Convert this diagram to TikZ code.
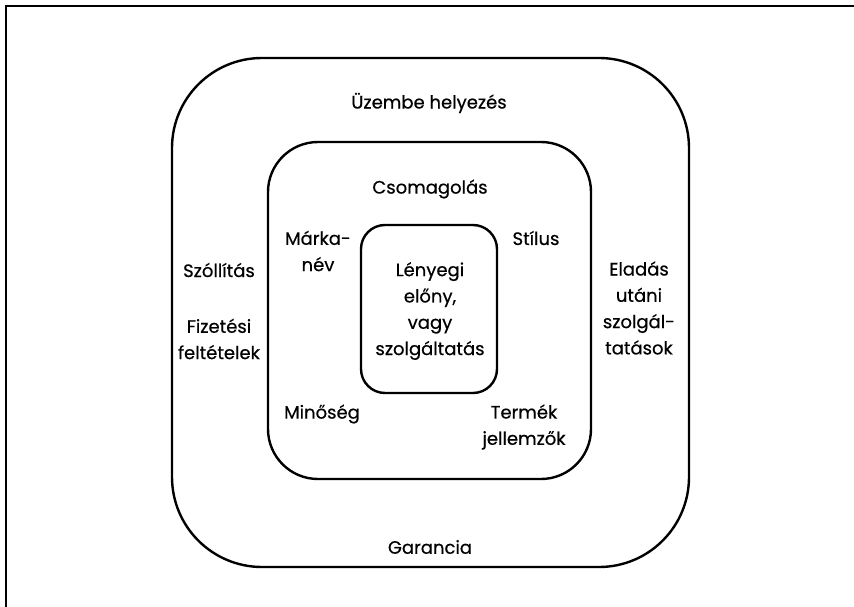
\documentclass[tikz,border=0pt]{standalone}
\usepackage{fontspec}
\setmainfont{Poppins}[BoldFont=Poppins,BoldFeatures={FakeBold=0.5}]
\begin{document}
\begin{tikzpicture}[x=1pt,y=-1pt,
  box/.style={draw,line width=2.4pt,rounded corners=#1},
  lbl/.style={align=center,font=\fontsize{18}{26.3}\selectfont\bfseries,inner sep=0pt}]
\useasboundingbox (0,0) rectangle (854,607);
\coordinate (ftop) at (854,6);
\coordinate (fcorner) at (6,6);
\coordinate (fbot) at (6,607);
\draw[line width=2pt] (ftop) -- (fcorner) -- (fbot);
\draw[box=90] (172,58) rectangle (689,567);
\draw[box=50] (268,142) rectangle (591,479);
\draw[box=24] (361,225) rectangle (497,393);
\node[lbl] (uzem) at (429,103) {Üzembe helyezés};
\node[lbl] (csom) at (430,189) {Csomagolás};
\node[lbl] (mark) at (318,251) {Márka-\\név};
\node[lbl] (stil) at (536,238) {Stílus};
\node[lbl] (leny) at (430,311) {Lényegi\\előny,\\vagy\\szolgáltatás};
\node[lbl] (szal) at (219,270) {Szóllítás};
\node[lbl] (fiz) at (219,339) {Fizetési\\feltételek};
\node[lbl] (elad) at (639,308) {Eladás\\utáni\\szolgál-\\tatások};
\node[lbl] (min) at (322,414) {Minőség};
\node[lbl] (term) at (524,427) {Termék\\jellemzők};
\node[lbl] (gar) at (430,547) {Garancia};
\end{tikzpicture}
\end{document}
